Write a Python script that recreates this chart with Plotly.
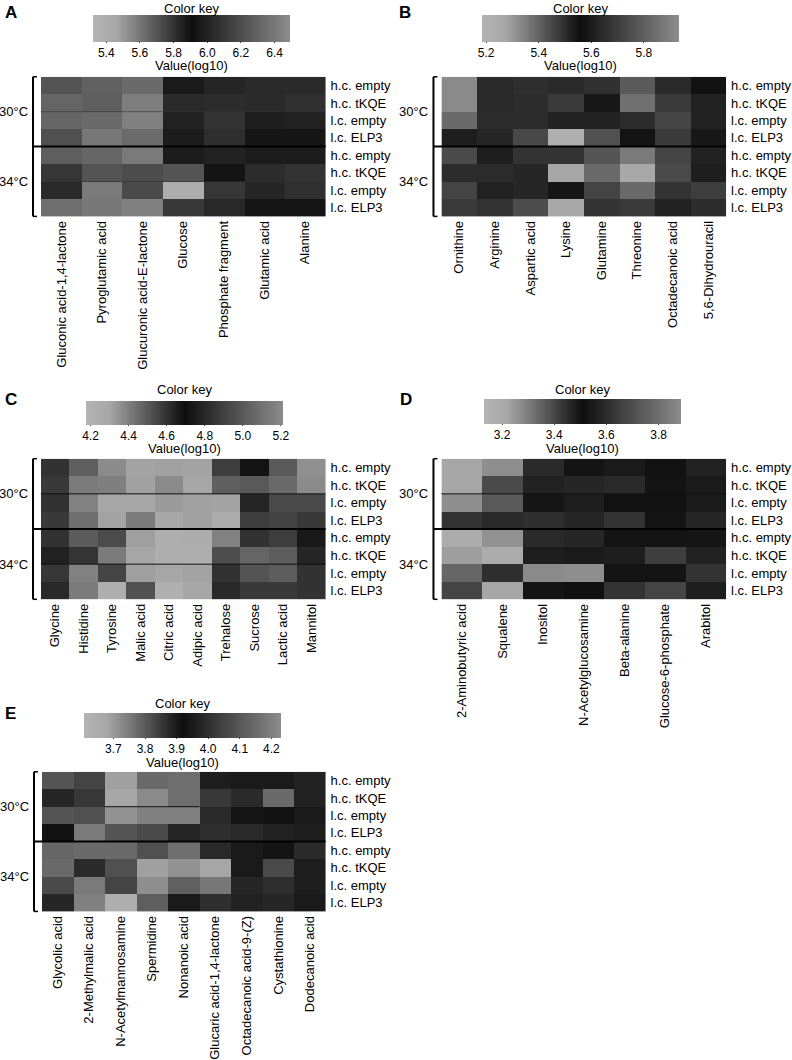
import plotly.graph_objects as go

# ---------------- data ----------------
row_labels = ["h.c. empty", "h.c. tKQE", "l.c. empty", "l.c. ELP3"] * 2
row_keys = [f"{t}|{r}" for t in ["30", "34"] for r in ["h.c. empty", "h.c. tKQE", "l.c. empty", "l.c. ELP3"]]
temps = ["30°C", "34°C"]

cols_A = ["Gluconic acid-1,4-lactone", "Pyroglutamic acid", "Glucuronic acid-E-lactone",
          "Glucose", "Phosphate fragment", "Glutamic acid", "Alanine"]
vals_A = [
    [5.700, 5.665, 5.636, 5.961, 6.012, 6.035, 6.035],
    [5.651, 5.671, 5.577, 6.035, 6.044, 6.040, 6.063],
    [5.648, 5.636, 5.572, 5.998, 6.077, 5.979, 5.998],
    [5.712, 5.598, 5.633, 5.970, 6.054, 5.942, 5.942],
    [5.671, 5.648, 5.589, 5.970, 5.998, 5.970, 5.970],
    [5.788, 5.700, 5.724, 6.235, 5.933, 6.044, 6.077],
    [5.823, 5.589, 5.730, 5.390, 6.091, 6.016, 6.063],
    [5.624, 5.595, 5.572, 6.100, 6.026, 5.938, 5.938],
]
ticks_A = [5.4, 5.6, 5.8, 6.0, 6.2, 6.4]
range_A = [5.32, 6.49]

cols_B = ["Ornithine", "Arginine", "Aspartic acid", "Lysine", "Glutamine", "Threonine",
          "Octadecanoic acid", "5,6-Dihydrouracil"]
vals_B = [
    [5.328, 5.643, 5.500, 5.508, 5.496, 5.418, 5.643, 5.572],
    [5.328, 5.643, 5.504, 5.478, 5.541, 5.376, 5.691, 5.620],
    [5.388, 5.649, 5.504, 5.522, 5.522, 5.504, 5.721, 5.620],
    [5.530, 5.631, 5.451, 5.220, 5.436, 5.549, 5.691, 5.590],
    [5.448, 5.608, 5.491, 5.491, 5.427, 5.357, 5.721, 5.620],
    [5.504, 5.649, 5.515, 5.275, 5.388, 5.260, 5.739, 5.608],
    [5.459, 5.620, 5.515, 5.545, 5.459, 5.388, 5.670, 5.703],
    [5.478, 5.670, 5.444, 5.260, 5.491, 5.478, 5.620, 5.649],
]
ticks_B = [5.2, 5.4, 5.6, 5.8]
range_B = [5.185, 5.935]

cols_C = ["Glycine", "Histidine", "Tyrosine", "Malic acid", "Citric acid", "Adipic acid",
          "Trehalose", "Sucrose", "Lactic acid", "Mannitol"]
vals_C = [
    [4.842, 4.483, 4.369, 4.307, 4.312, 4.307, 4.887, 4.715, 5.002, 4.359],
    [4.871, 4.410, 4.400, 4.312, 4.369, 4.299, 5.027, 5.002, 5.068, 4.369],
    [4.842, 4.395, 4.299, 4.299, 4.328, 4.312, 4.307, 4.789, 4.936, 4.936],
    [4.871, 4.442, 4.307, 4.410, 4.299, 4.312, 4.247, 4.887, 4.912, 4.871],
    [4.842, 4.493, 4.535, 4.317, 4.227, 4.247, 4.395, 4.842, 4.887, 4.739],
    [4.772, 4.594, 4.410, 4.299, 4.227, 4.227, 4.953, 5.051, 5.019, 4.789],
    [4.862, 4.395, 4.550, 4.317, 4.299, 4.307, 4.842, 4.982, 5.019, 4.842],
    [4.805, 4.410, 4.227, 4.519, 4.211, 4.299, 4.805, 4.871, 4.871, 4.842],
]
ticks_C = [4.2, 4.4, 4.6, 4.8, 5.0, 5.2]
range_C = [4.175, 5.21]

cols_D = ["2-Aminobutyric acid", "Squalene", "Inositol", "N-Acetylglucosamine",
          "Beta-alanine", "Glucose-6-phosphate", "Arabitol"]
vals_D = [
    [3.221, 3.266, 3.591, 3.526, 3.543, 3.519, 3.567],
    [3.221, 3.394, 3.567, 3.579, 3.591, 3.526, 3.543],
    [3.266, 3.364, 3.531, 3.555, 3.519, 3.519, 3.543],
    [3.438, 3.455, 3.603, 3.579, 3.618, 3.526, 3.579],
    [3.183, 3.258, 3.591, 3.579, 3.526, 3.526, 3.531],
    [3.236, 3.183, 3.555, 3.543, 3.555, 3.651, 3.567],
    [3.341, 3.447, 3.273, 3.266, 3.526, 3.526, 3.618],
    [3.406, 3.221, 3.526, 3.514, 3.618, 3.669, 3.555],
]
ticks_D = [3.2, 3.4, 3.6, 3.8]
range_D = [3.13, 3.885]

cols_E = ["Glycolic acid", "2-Methylmalic acid", "N-Acetylmannosamine", "Spermidine",
          "Nonanoic acid", "Glucaric acid-1,4-lactone", "Octadecanoic acid-9-(Z)",
          "Cystathionine", "Dodecanoic acid"]
vals_E = [
    [3.807, 3.834, 3.690, 3.774, 3.768, 3.893, 3.948, 3.948, 3.968],
    [3.881, 3.852, 3.681, 3.725, 3.768, 3.852, 3.987, 4.146, 3.968],
    [3.807, 3.815, 3.712, 3.740, 3.740, 3.874, 3.938, 3.928, 3.948],
    [3.912, 3.750, 3.807, 3.824, 3.881, 3.868, 3.987, 3.968, 3.958],
    [3.781, 3.774, 3.774, 3.815, 3.768, 3.874, 3.948, 3.933, 3.987],
    [3.774, 3.874, 3.815, 3.690, 3.712, 3.681, 3.948, 4.067, 3.958],
    [3.824, 3.750, 3.834, 3.718, 3.790, 3.754, 3.977, 3.997, 3.958],
    [3.881, 3.740, 3.637, 3.793, 3.899, 3.868, 3.968, 3.977, 3.948],
]
ticks_E = [3.7, 3.8, 3.9, 4.0, 4.1, 4.2]
range_E = [3.606, 4.23]

# ---------------- layout helpers ----------------
W, H = 792, 1060
FONT = "Liberation Sans, Arial, Helvetica, sans-serif"
colorscale = [[0.0, "#b4b4b4"], [0.12, "#a6a6a6"], [0.5, "#0e0e0e"], [1.0, "#8c8c8c"]]


def px_x(x):
    return x / W


def px_y(y):
    return 1 - y / H


panels = [
    dict(letter="A", cols=cols_A, vals=vals_A, ticks=ticks_A, rng=range_A,
         box=(41, 326, 77, 217), cb=(191.5, 15, 27), lpos=(3, 13), kt=9, vt=66,
         thin=[(0.75, 0, 1, "#333", 0.6), (0.25, 0, 1, "#333", 0.6)]),
    dict(letter="B", cols=cols_B, vals=vals_B, ticks=ticks_B, rng=range_B,
         box=(442, 727, 77, 217), cb=(581.5, 15, 27), lpos=(398, 13), kt=9, vt=66,
         thin=[]),
    dict(letter="C", cols=cols_C, vals=vals_C, ticks=ticks_C, rng=range_C,
         box=(41, 326, 460, 601), cb=(184.5, 402, 24), lpos=(3, 401), kt=391, vt=450,
         thin=[(0.75, 0, 1, "#111", 1), (0.25, 0, 1, "#111", 1)]),
    dict(letter="D", cols=cols_D, vals=vals_D, ticks=ticks_D, rng=range_D,
         box=(442, 727, 460, 601), cb=(583, 400, 25), lpos=(399, 401), kt=391, vt=450,
         thin=[(0.75, 0, 1, "#111", 1)]),
    dict(letter="E", cols=cols_E, vals=vals_E, ticks=ticks_E, rng=range_E,
         box=(42, 326, 774, 914), cb=(182.5, 715, 25), lpos=(3, 716), kt=705, vt=765,
         thin=[(0.75, 2 / 9, 5 / 9, "#111", 1)]),
]

fig = go.Figure()
layout = dict(width=W, height=H, margin=dict(l=0, r=0, t=0, b=0),
              paper_bgcolor="white", plot_bgcolor="white",
              font=dict(family=FONT, size=13, color="black"),
              showlegend=False, annotations=[], shapes=[])

for i, p in enumerate(panels):
    n = "" if i == 0 else str(i + 1)
    xa, ya = "x" + n, "y" + n
    x0, x1, y0, y1 = p["box"]
    cx, ctop, cth = p["cb"]
    fig.add_trace(go.Heatmap(
        z=p["vals"], x=p["cols"], y=row_keys, xaxis=xa, yaxis=ya,
        colorscale=colorscale, zmin=p["rng"][0], zmax=p["rng"][1],
        colorbar=dict(orientation="h", x=px_x(cx), xanchor="center",
                      y=px_y(ctop), yanchor="top", lenmode="pixels", len=197,
                      thickness=cth, xpad=0, ypad=0, outlinewidth=0,
                      ticks="outside", ticklen=1, tickcolor="#444",
                      tickvals=p["ticks"], tickformat=".1f",
                      tickfont=dict(size=12, family=FONT, color="black")),
        hoverinfo="skip"))
    layout["xaxis" + n] = dict(domain=[px_x(x0), px_x(x1)], anchor=ya,
                               tickangle=-90, showgrid=False, zeroline=False,
                               showline=False, ticks="", ticklabelstandoff=1,
                               tickfont=dict(size=13), fixedrange=True)
    layout["yaxis" + n] = dict(domain=[px_y(y1), px_y(y0)], anchor=xa, side="right",
                               autorange="reversed", tickvals=row_keys, ticktext=row_labels,
                               showgrid=False, zeroline=False, showline=False, ticks="",
                               ticklabelstandoff=4, tickfont=dict(size=13), fixedrange=True)
    ann = layout["annotations"]
    ann.append(dict(text=f"<b>{p['letter']}</b>", x=px_x(p["lpos"][0]), y=px_y(p["lpos"][1]),
                    xref="paper", yref="paper", xanchor="left", yanchor="middle",
                    showarrow=False, font=dict(size=17)))
    ann.append(dict(text="Color key", x=px_x(cx), y=px_y(p["kt"]), xref="paper", yref="paper",
                    xanchor="center", yanchor="middle", showarrow=False, font=dict(size=13)))
    ann.append(dict(text="Value(log10)", x=px_x(cx), y=px_y(p["vt"]), xref="paper", yref="paper",
                    xanchor="center", yanchor="middle", showarrow=False, font=dict(size=13)))
    for t, yd in zip(temps, [0.75, 0.25]):
        ann.append(dict(text=t, x=-0.04, y=yd, xref=xa + " domain", yref=ya + " domain",
                        xanchor="right", yanchor="middle", showarrow=False, font=dict(size=13)))
    sh = layout["shapes"]
    bx = -0.028
    tk = 4 / (x1 - x0)
    sh.append(dict(type="line", xref=xa + " domain", yref=ya + " domain",
                   x0=bx, x1=bx, y0=0, y1=1, line=dict(color="black", width=2)))
    for yy in (0, 1):
        sh.append(dict(type="line", xref=xa + " domain", yref=ya + " domain",
                       x0=bx, x1=bx + tk, y0=yy, y1=yy, line=dict(color="black", width=1.5)))
    sh.append(dict(type="line", xref=xa + " domain", yref=ya + " domain",
                   x0=bx, x1=1, y0=0.5, y1=0.5, line=dict(color="black", width=2)))
    for (yy, xa0, xa1, c, w) in p["thin"]:
        sh.append(dict(type="line", xref=xa + " domain", yref=ya + " domain",
                       x0=xa0, x1=xa1, y0=yy, y1=yy, line=dict(color=c, width=w)))

fig.update_layout(**layout)
fig.write_html("out.html", config={"displayModeBar": False},
               post_script="document.body.style.margin='0';document.body.style.padding='0';")
